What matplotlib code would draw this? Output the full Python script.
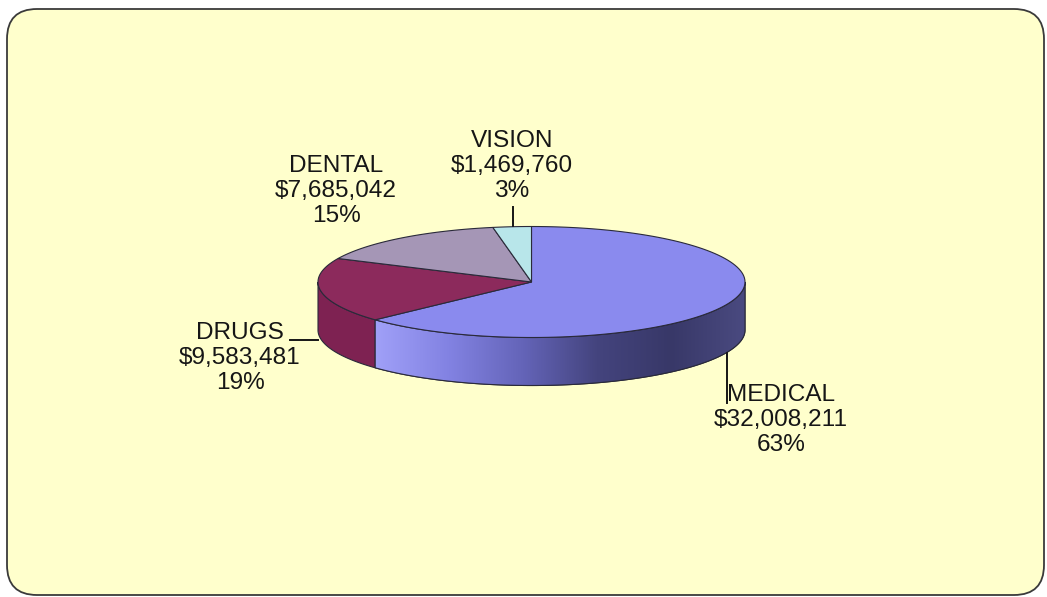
import numpy as np
import matplotlib.pyplot as plt
from matplotlib.patches import Polygon, FancyBboxPatch
from matplotlib.colors import LinearSegmentedColormap

# Spending by benefit category
categories = ['MEDICAL', 'DRUGS', 'DENTAL', 'VISION']
amounts = [32008211, 9583481, 7685042, 1469760]

top_colors = ['#8A8AEE', '#8C2A5C', '#A596B6', '#B8E6EA']
side_colors = ['#7070C8', '#7E2252', '#8E7FA0', '#98C8CC']

# pie geometry in pixel space
cx, cy = 531.5, 282.0
ra, rb = 213.5, 55.5
depth = 48.0

plt.rcParams['font.family'] = ['Liberation Sans', 'DejaVu Sans']

fig = plt.figure(figsize=(10.47, 5.97), dpi=100, facecolor='white')
ax = fig.add_axes([0, 0, 1, 1])
ax.set_xlim(0, 1047)
ax.set_ylim(597, 0)
ax.axis('off')

panel = FancyBboxPatch((7, 9), 1037, 586, boxstyle='round,pad=0,rounding_size=30',
                       facecolor='#FFFFCC', edgecolor='#3A3A3A', linewidth=1.3, zorder=0)
ax.add_patch(panel)


def rim(t0, t1, n=120, dy=0.0):
    t = np.radians(np.linspace(t0, t1, n))
    return np.column_stack([cx + ra * np.cos(t), cy - rb * np.sin(t) + dy])


total = sum(amounts)
fracs = [v / total for v in amounts]
bounds = [90.0]
for f in fracs:
    bounds.append(bounds[-1] - f * 360.0)

side_cmap = LinearSegmentedColormap.from_list(
    'side', ['#A0A0F8', '#8282E2', '#6464B8', '#44447E', '#383868', '#4A4A80'])

# front walls (only the lower half of the ellipse is visible)
for i, (t_start, t_end) in enumerate(zip(bounds[:-1], bounds[1:])):
    lo, hi = sorted([t_start % 360, t_end % 360])
    if t_end < 0 and t_start > 0:
        lo, hi = t_end % 360, 360.0
    a0, a1 = max(lo, 180.0), min(hi, 360.0)
    if a1 <= a0:
        continue
    top = rim(a0, a1)
    bot = rim(a1, a0, dy=depth)
    pts = np.vstack([top, bot])
    wall = Polygon(pts, closed=True, facecolor=side_colors[i], edgecolor='#2A2A3A',
                   linewidth=0.8, zorder=2)
    ax.add_patch(wall)
    if i == 0:
        grad = np.linspace(0, 1, 256)[None, :]
        x0, x1 = pts[:, 0].min(), pts[:, 0].max()
        y0, y1 = pts[:, 1].min(), pts[:, 1].max()
        im = ax.imshow(grad, cmap=side_cmap, extent=(x0, x1, y1, y0),
                       aspect='auto', zorder=2.1)
        im.set_clip_path(wall)
        ax.add_patch(Polygon(pts, closed=True, facecolor='none', edgecolor='#2A2A3A',
                             linewidth=0.8, zorder=2.2))

# top face
for i, (t_start, t_end) in enumerate(zip(bounds[:-1], bounds[1:])):
    pts = np.vstack([[cx, cy], rim(t_start, t_end)])
    ax.add_patch(Polygon(pts, closed=True, facecolor=top_colors[i],
                         edgecolor='#2A2A3A', linewidth=0.8, zorder=3))

ax.set_xlim(0, 1047)
ax.set_ylim(597, 0)

# labels and leader lines
label_pos = {'MEDICAL': (781, 420), 'DRUGS': (240, 358),
             'DENTAL': (336, 191), 'VISION': (512, 166)}
leaders = {'MEDICAL': ([727, 727], [353, 403]), 'DRUGS': ([290, 318], [340, 340]),
           'VISION': ([513, 513], [207, 226])}

for name, v, f in zip(categories, amounts, fracs):
    x, y = label_pos[name]
    ax.text(x, y, f'{name}\n${v:,}\n{f * 100:.0f}%', ha='center', va='center',
            fontsize=17.6, color='#161616', linespacing=1.17, zorder=5)
    if name in leaders:
        lx, ly = leaders[name]
        ax.plot(lx, ly, color='#161616', linewidth=1.4, zorder=4)

fig.savefig('out.png', dpi=100, facecolor='white')
